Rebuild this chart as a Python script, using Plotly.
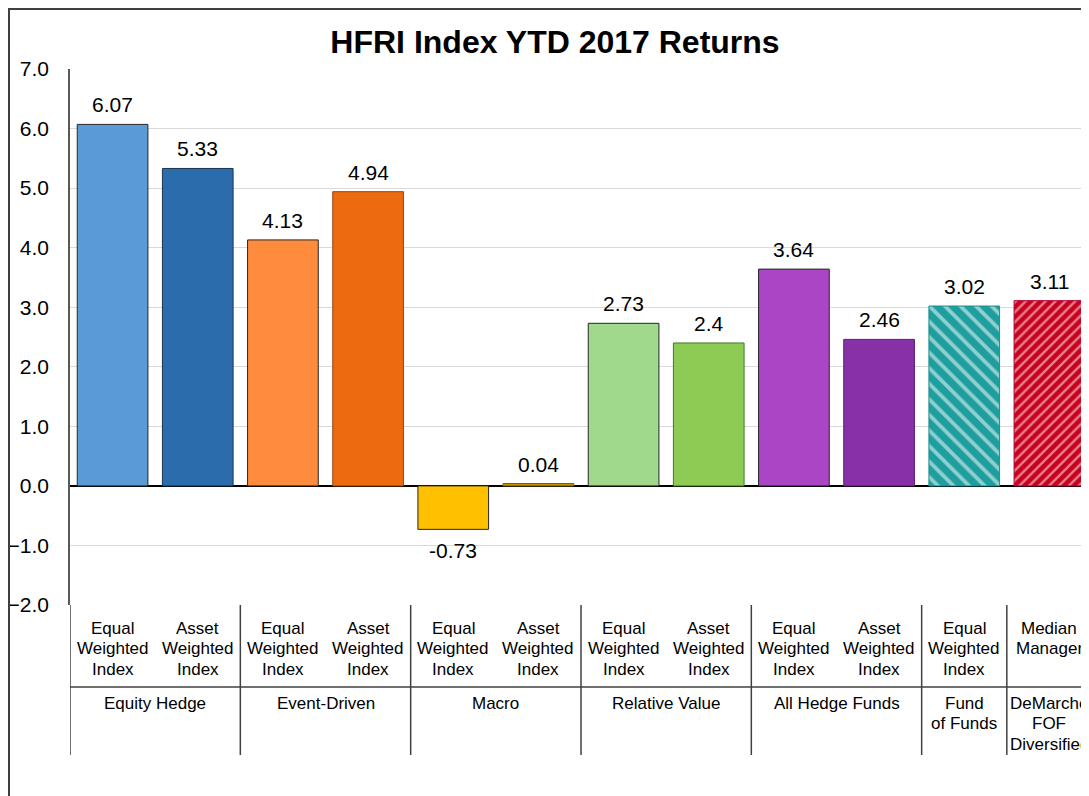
import plotly.graph_objects as go

returns = [6.07, 5.33, 4.13, 4.94, -0.73, 0.04, 2.73, 2.4, 3.64, 2.46, 3.02, 3.11]
index_labels = ["Equal Weighted Index", "Asset Weighted Index"] * 5 + ["Equal Weighted Index", "Median Manager"]
groups = ["Equity Hedge", "Event-Driven", "Macro", "Relative Value", "All Hedge Funds",
          "Fund of Funds", "DeMarche FOF Diversified"]
group_sizes = [2, 2, 2, 2, 2, 1, 1]
y_ticks = [-2, -1, 0, 1, 2, 3, 4, 5, 6, 7]

bar_colors = ["#5B9BD5", "#2B6CAC", "#FF8B3D", "#EE6A0E", "#FFC000", "#BF9000",
              "#A0D88C", "#8DCB55", "#AA45C6", "#8830A8", "#1E9E9E", "#C8001E"]
edge_colors = ["#262626", "#1B3350", "#262626", "#9A4510", "#262626", "#7F6000",
               "#262626", "#3E7A26", "#262626", "#5A1F70", "#1A9090", "#B0003A"]
stripe_shapes = [""] * 10 + ["\\", "/"]
stripe_colors = ["#FFFFFF"] * 10 + ["#3CCACA", "#FF6F9C"]

# page has an 8px body margin, so the figure starts at (8, 8) in the window
OFF = 8
W, H = 1089 - OFF, 796 - OFF
L, T = 70 - OFF, 69 - OFF
B = H - (605 - OFF)
pw, ph = W - L, H - T - B


def px_y(sy):
    # window row -> paper y
    return (H - B - (sy - OFF)) / ph


def px_x(sx):
    return (sx - OFF - L) / pw


x = list(range(len(returns)))

fig = go.Figure(go.Bar(
    x=x, y=returns, width=0.83,
    marker=dict(color=bar_colors, line=dict(color=edge_colors, width=1),
                pattern=dict(shape=stripe_shapes, fgcolor=stripe_colors,
                             size=[8] * 10 + [11, 7], solidity=0.35, fillmode="overlay")),
    hoverinfo="skip",
))

annotations = []
for i, v in enumerate(returns):
    annotations.append(dict(x=i, y=v, xref="x", yref="y", text=str(v), showarrow=False,
                            yanchor="bottom" if v >= 0 else "top",
                            yshift=6 if v >= 0 else -8,
                            font=dict(size=21, color="#000000")))

# first level category labels
for i, lab in enumerate(index_labels):
    words = lab.split(" ")
    for k, w in enumerate(words):
        annotations.append(dict(x=i, y=px_y(628 + k * 20.5), xref="x", yref="paper", text=w,
                                showarrow=False, yanchor="middle",
                                font=dict(size=17, color="#000000")))

# second level group labels
group_lines = {"Fund of Funds": ["Fund", "of Funds"],
               "DeMarche FOF Diversified": ["DeMarche", "FOF", "Diversified"]}
shapes = []
start = 0
for g, n in zip(groups, group_sizes):
    center = start + (n - 1) / 2
    for k, line in enumerate(group_lines.get(g, [g])):
        annotations.append(dict(x=center, y=px_y(703 + k * 20.5), xref="x", yref="paper", text=line,
                                showarrow=False, yanchor="middle",
                                font=dict(size=17, color="#000000")))
    shapes.append(dict(type="line", xref="x", yref="paper", x0=start - 0.5, x1=start - 0.5,
                       y0=px_y(605), y1=px_y(755), line=dict(color="#404040", width=1.5)))
    start += n
shapes.append(dict(type="line", xref="x", yref="paper", x0=-0.5, x1=start + 1,
                   y0=px_y(687), y1=px_y(687), line=dict(color="#404040", width=1.5)))
# outer chart border
shapes.append(dict(type="rect", xref="paper", yref="paper", x0=px_x(9), x1=px_x(1110),
                   y0=px_y(830), y1=px_y(9), line=dict(color="#404040", width=2)))

fig.update_layout(
    width=W, height=H,
    margin=dict(l=L, r=0, t=T, b=B, autoexpand=False),
    paper_bgcolor="white", plot_bgcolor="white",
    font=dict(family="Liberation Sans, Arial, sans-serif", color="#000000"),
    title=dict(text="<b>HFRI Index YTD 2017 Returns</b>", x=(555 - OFF) / W,
               xanchor="center", y=1 - (42 - OFF) / H, yanchor="middle",
               font=dict(size=32, color="#000000")),
    showlegend=False,
    annotations=annotations,
    shapes=shapes,
    bargap=0.17,
)
fig.update_xaxes(range=[-0.5, pw / ((1092 - 70) / 12) - 0.5], showticklabels=False,
                 showgrid=False, zeroline=False, showline=False, fixedrange=True,
                 automargin=False)
fig.update_yaxes(range=[-2, 7], tickvals=y_ticks, tickformat=".1f",
                 showgrid=True, gridcolor="#D9D9D9", gridwidth=1,
                 zeroline=True, zerolinecolor="#000000", zerolinewidth=1.5,
                 showline=True, linecolor="#595959", linewidth=1.5, automargin=False,
                 ticks="", ticklabelstandoff=15, tickfont=dict(size=21, color="#000000"))

fig.write_html("out.html")
